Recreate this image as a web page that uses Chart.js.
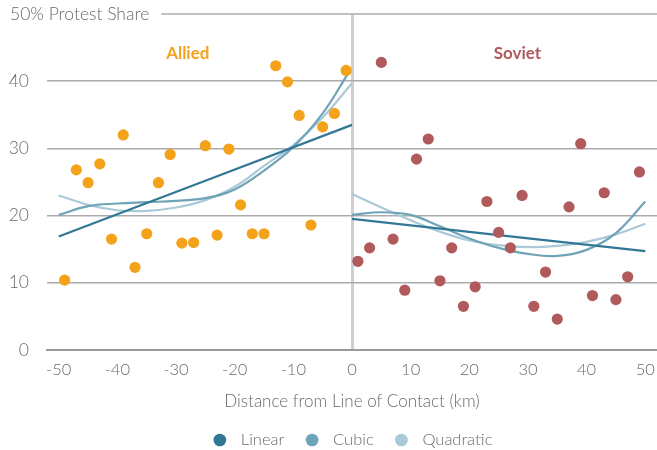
<!DOCTYPE html>
<html>
<head>
<meta charset="utf-8">
<script src="https://cdn.jsdelivr.net/npm/chart.js@4.4.1/dist/chart.umd.min.js"></script>
<style>
  html, body { margin: 0; padding: 0; background: #ffffff; overflow: hidden; }
  #wrap { width: 657px; height: 450px; position: relative; }
</style>
</head>
<body>
<div id="wrap"><canvas id="c"></canvas></div>
<script>
// ---- Data ----
const alliedX = [-49,-47,-45,-43,-41,-39,-37,-35,-33,-31,-29,-27,-25,-23,-21,-19,-17,-15,-13,-11,-9,-7,-5,-3,-1];
const alliedY = [10.4,26.8,24.9,27.7,16.5,32.0,12.3,17.3,24.9,29.1,15.9,16.0,30.4,17.1,29.9,21.6,17.3,17.3,42.3,39.9,34.9,18.6,33.2,35.2,41.6];

const sovietX = [1,3,5,7,9,11,13,15,17,19,21,23,25,27,29,31,33,35,37,39,41,43,45,47,49];
const sovietY = [13.2,15.2,42.8,16.5,8.9,28.4,31.4,10.3,15.2,6.5,9.4,22.1,17.5,15.2,23.0,6.5,11.6,4.6,21.3,30.7,8.1,23.4,7.5,10.9,26.5];

const alliedLinX = [-50, 0];
const alliedLinY = [16.9, 33.5];
const alliedFitX = [-50,-45,-40,-35,-30,-25,-20,-15,-10,-5,-0.5];
const alliedCubicY = [20.1,21.4,21.8,22.0,22.2,22.6,23.9,26.7,30.2,35.2,41.4];
const alliedQuadX = [-50,-45,-40,-35,-30,-25,-20,-15,-10,-5,0];
const alliedQuadY = [23.0,21.6,20.8,20.7,21.2,22.3,24.3,27.4,30.5,34.6,39.7];

const sovietLinX = [0, 50];
const sovietLinY = [19.5, 14.7];
const sovietFitX = [0,5,10,15,20,25,30,35,40,45,50];
const sovietCubicY = [20.1,20.5,20.1,18.4,16.6,15.2,14.3,14.0,14.9,17.4,22.1];
const sovietQuadY = [23.2,21.2,19.3,17.6,16.3,15.6,15.3,15.5,16.1,17.2,18.8];

const xTicks = [-50,-40,-30,-20,-10,0,10,20,30,40,50];
const yTicks = [0,10,20,30,40,50];
const topLabel = '50% Protest Share';
const xTitle = 'Distance from Line of Contact (km)';
const fitNames = ['Linear','Cubic','Quadratic'];
const groupNames = ['Allied','Soviet'];
const groupLabelX = [-28, 28.2];
const groupLabelY = [44.1, 44.1];

// ---- Styles ----
const FONT = 'Lato, "Open Sans", sans-serif';
const C_ALLIED = '#F5A21B';
const C_SOVIET = '#B05A5B';
const C_LIN = '#327895';
const C_CUB = '#6FA3B7';
const C_QUA = '#A9CAD6';
const C_GRID = '#ababab';
const C_TEXT = '#6a6a6a';

const zip = (xs, ys) => xs.map((x, i) => ({x, y: ys[i]}));

const lineDs = (label, xs, ys, color) => ({
  type: 'line', label, data: zip(xs, ys), borderColor: color, backgroundColor: color,
  borderWidth: 2.2, pointRadius: 0, pointHoverRadius: 0, tension: 0.4, fill: false, showLine: true
});

const datasets = [
  {label: groupNames[0], data: zip(alliedX, alliedY), backgroundColor: C_ALLIED, borderColor: C_ALLIED, pointRadius: 5.6, borderWidth: 0},
  {label: groupNames[1], data: zip(sovietX, sovietY), backgroundColor: C_SOVIET, borderColor: C_SOVIET, pointRadius: 5.6, borderWidth: 0},
  lineDs(fitNames[0], alliedLinX, alliedLinY, C_LIN),
  lineDs(fitNames[1], alliedFitX, alliedCubicY, C_CUB),
  lineDs(fitNames[2], alliedQuadX, alliedQuadY, C_QUA),
  lineDs(fitNames[0], sovietLinX, sovietLinY, C_LIN),
  lineDs(fitNames[1], sovietFitX, sovietCubicY, C_CUB),
  lineDs(fitNames[2], sovietFitX, sovietQuadY, C_QUA)
];

const annotations = {
  id: 'annotations',
  beforeDatasetsDraw(chart) {
    const {ctx, chartArea, scales: {x, y}} = chart;
    const yy = y.getPixelForValue(50);
    ctx.save();
    ctx.font = '300 17.5px ' + FONT;
    ctx.fillStyle = C_TEXT;
    ctx.textAlign = 'left';
    ctx.textBaseline = 'middle';
    ctx.fillText(topLabel, 10, yy);
    const w = ctx.measureText(topLabel).width;
    ctx.strokeStyle = C_GRID;
    ctx.lineWidth = 1.5;
    ctx.beginPath();
    ctx.moveTo(10 + w + 12, yy);
    ctx.lineTo(chartArea.right, yy);
    ctx.stroke();
    ctx.font = 'bold 17px ' + FONT;
    ctx.textAlign = 'center';
    const cols = [C_ALLIED, C_SOVIET];
    groupNames.forEach((n, i) => {
      ctx.fillStyle = cols[i];
      ctx.fillText(n, x.getPixelForValue(groupLabelX[i]), y.getPixelForValue(groupLabelY[i]));
    });
    ctx.restore();
  }
};

new Chart(document.getElementById('c'), {
  type: 'scatter',
  data: {datasets},
  plugins: [annotations],
  options: {
    responsive: true,
    maintainAspectRatio: false,
    animation: false,
    devicePixelRatio: 1,
    layout: {autoPadding: false, padding: {top: 14, bottom: -8.25, left: 0, right: 0}},
    plugins: {
      tooltip: {enabled: false},
      legend: {
        position: 'bottom',
        fullSize: false,
        labels: {
          usePointStyle: true,
          boxHeight: 9,
          padding: 19.5,
          color: C_TEXT,
          font: {family: FONT, size: 16.5, weight: 300},
          generateLabels: () => [2, 3, 4].map(i => ({
            text: ' ' + datasets[i].label,
            fillStyle: datasets[i].borderColor,
            strokeStyle: datasets[i].borderColor,
            lineWidth: 0,
            pointStyle: 'circle',
            hidden: false,
            datasetIndex: i,
            fontColor: C_TEXT
          }))
        }
      }
    },
    scales: {
      x: {
        type: 'linear',
        min: -52, max: 52,
        afterBuildTicks: s => { s.ticks = xTicks.map(v => ({value: v})); },
        afterFit: s => { s.height = 62.25; s.paddingLeft = 0; s.paddingRight = 0; },
        grid: {
          drawTicks: false,
          color: c => (c.tick && c.tick.value === 0) ? '#cfcfcf' : 'rgba(0,0,0,0)',
          lineWidth: c => (c.tick && c.tick.value === 0) ? 3 : 0
        },
        border: {display: true, color: '#9a9a9a', width: 2},
        ticks: {padding: 10, color: C_TEXT, font: {family: FONT, size: 16.5, weight: 300}, maxRotation: 0},
        title: {display: true, text: xTitle, color: C_TEXT, font: {family: FONT, size: 17, weight: 300, lineHeight: 1.0}, padding: {top: 0, bottom: 2.5}}
      },
      y: {
        min: 0, max: 50,
        afterBuildTicks: s => { s.ticks = yTicks.map(v => ({value: v})); },
        afterFit: s => { s.width = 47; s.paddingTop = 0; s.paddingBottom = 0; },
        grid: {
          drawTicks: false,
          color: c => (c.tick && c.tick.value === 50) ? 'rgba(0,0,0,0)' : C_GRID,
          lineWidth: 1.5
        },
        border: {display: false},
        ticks: {
          padding: 18, color: C_TEXT, font: {family: FONT, size: 17.5, weight: 300},
          callback: v => v === 50 ? '' : String(v)
        }
      }
    }
  }
});
</script>
</body>
</html>
